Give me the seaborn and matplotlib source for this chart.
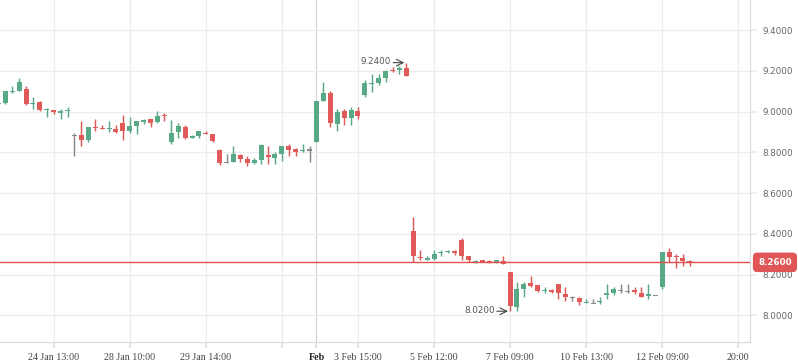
import matplotlib
matplotlib.use("Agg")
import numpy as np
import pandas as pd
import matplotlib.pyplot as plt
import matplotlib.transforms as mtrans
import seaborn as sns

# ---- data ----
opens = [9.036, 9.040, 9.095, 9.102, 9.111, 9.038, 9.045, 9.009, 9.008, 8.994,
         9.004, 8.883, 8.885, 8.860, 8.923, 8.918, 8.914, 8.913, 8.944, 8.904,
         8.930, 8.950, 8.963, 8.950, 8.981, 8.852, 8.901, 8.924, 8.872, 8.881,
         8.895, 8.890, 8.810, 8.751, 8.754, 8.787, 8.767, 8.749, 8.763, 8.784,
         8.774, 8.793, 8.829, 8.816, 8.806, 8.811, 8.852, 9.053, 9.090, 8.940,
         9.003, 8.970, 9.003, 9.081, 9.138, 9.142, 9.166, 9.201, 9.205, 9.212,
         8.414, 8.285, 8.271, 8.278, 8.307, 8.311, 8.315, 8.370, 8.291, 8.261,
         8.271, 8.266, 8.260, 8.266, 8.212, 8.042, 8.129, 8.158, 8.149, 8.121,
         8.126, 8.154, 8.105, 8.086, 8.083, 8.062, 8.059, 8.066, 8.104, 8.110,
         8.123, 8.118, 8.124, 8.111, 8.098, 8.098, 8.140, 8.311, 8.289, 8.280,
         8.266]
highs = [9.044, 9.101, 9.125, 9.165, 9.125, 9.070, 9.050, 9.019, 9.008, 9.012,
         9.021, 8.895, 8.953, 8.924, 8.962, 8.933, 8.952, 8.933, 8.983, 8.972,
         8.954, 8.965, 8.963, 9.001, 8.994, 8.958, 8.944, 8.934, 8.885, 8.904,
         8.903, 8.890, 8.815, 8.793, 8.831, 8.793, 8.782, 8.772, 8.840, 8.830,
         8.800, 8.831, 8.839, 8.821, 8.840, 8.831, 9.052, 9.145, 9.100, 9.014,
         9.014, 9.024, 9.022, 9.155, 9.183, 9.184, 9.205, 9.220, 9.225, 9.240,
         8.484, 8.320, 8.291, 8.320, 8.320, 8.321, 8.321, 8.380, 8.291, 8.271,
         8.271, 8.271, 8.271, 8.293, 8.212, 8.165, 8.165, 8.193, 8.149, 8.137,
         8.130, 8.154, 8.137, 8.096, 8.088, 8.081, 8.079, 8.088, 8.154, 8.140,
         8.154, 8.154, 8.137, 8.139, 8.154, 8.098, 8.311, 8.330, 8.301, 8.301,
         8.273]
lows = [9.032, 9.037, 9.090, 9.102, 9.034, 9.014, 9.004, 8.975, 8.987, 8.965,
        8.975, 8.783, 8.832, 8.852, 8.905, 8.914, 8.900, 8.895, 8.862, 8.895,
        8.890, 8.937, 8.926, 8.945, 8.955, 8.841, 8.870, 8.865, 8.872, 8.872,
        8.888, 8.850, 8.736, 8.746, 8.754, 8.751, 8.734, 8.743, 8.745, 8.745,
        8.743, 8.755, 8.783, 8.783, 8.803, 8.754, 8.852, 9.053, 8.926, 8.906,
        8.935, 8.935, 8.963, 9.071, 9.095, 9.130, 9.147, 9.196, 9.186, 9.176,
        8.260, 8.271, 8.271, 8.271, 8.293, 8.304, 8.298, 8.271, 8.260, 8.259,
        8.260, 8.255, 8.255, 8.252, 8.020, 8.023, 8.090, 8.140, 8.113, 8.111,
        8.111, 8.080, 8.072, 8.072, 8.052, 8.062, 8.059, 8.054, 8.079, 8.100,
        8.111, 8.111, 8.105, 8.090, 8.081, 8.098, 8.131, 8.263, 8.234, 8.242,
        8.242]
closes = [9.040, 9.101, 9.099, 9.144, 9.039, 9.041, 9.008, 9.012, 8.998, 9.003,
          9.007, 8.883, 8.862, 8.924, 8.918, 8.914, 8.917, 8.900, 8.904, 8.929,
          8.954, 8.958, 8.945, 8.978, 8.978, 8.895, 8.929, 8.870, 8.880, 8.904,
          8.888, 8.857, 8.749, 8.751, 8.792, 8.769, 8.749, 8.762, 8.836, 8.781,
          8.792, 8.831, 8.811, 8.803, 8.809, 8.811, 9.052, 9.090, 8.945, 8.996,
          8.970, 9.008, 8.978, 9.140, 9.140, 9.165, 9.200, 9.199, 9.215, 9.176,
          8.293, 8.282, 8.281, 8.302, 8.310, 8.315, 8.304, 8.293, 8.271, 8.265,
          8.260, 8.265, 8.270, 8.252, 8.047, 8.129, 8.153, 8.144, 8.121, 8.124,
          8.114, 8.110, 8.091, 8.086, 8.064, 8.064, 8.059, 8.068, 8.106, 8.129,
          8.123, 8.118, 8.113, 8.090, 8.100, 8.098, 8.311, 8.288, 8.287, 8.268,
          8.260]

last_price = 8.26
high_mark = (59, 9.24)
low_mark = (74, 8.02)

tick_idx = [8, 19, 30, 41, 46, 52, 63, 74, 85, 96, 107]
tick_labels = ["24 Jan 13:00", "28 Jan 10:00", "29 Jan 14:00", "", "Feb",
               "3 Feb 15:00", "5 Feb 12:00", "7 Feb 09:00", "10 Feb 13:00",
               "12 Feb 09:00", "20:00"]
y_ticks = [8.0, 8.2, 8.4, 8.6, 8.8, 9.0, 9.2, 9.4]

GREEN = "#58a986"
RED = "#e05a5a"
GRAY = "#8a8a8a"
GRID = "#ececec"

df = pd.DataFrame({"open": opens, "high": highs, "low": lows, "close": closes})
df["idx"] = np.arange(len(df))
df["color"] = np.where(df.close > df.open, GREEN,
                       np.where(df.close < df.open, RED, GRAY))

sns.set_theme(style="white")
plt.rcParams["font.family"] = ["DejaVu Sans"]

fig = plt.figure(figsize=(7.98, 3.63), dpi=100)
ax = fig.add_axes([0, 21 / 363, 750 / 798, 342 / 363])

# grid
for t in tick_idx:
    if t == 46:
        ax.axvline(t, color="#d4d4d4", lw=0.9, zorder=0)
    else:
        ax.axvline(t, color=GRID, lw=0.9, zorder=0)
for yv in y_ticks:
    ax.axhline(yv, color=GRID, lw=0.9, zorder=0)

# wicks
ax.vlines(df.idx, df.low, df.high, colors=df.color, lw=1.05, zorder=2)
# bodies
bottom = np.minimum(df.open, df.close)
height = np.abs(df.close - df.open)
minh = 0.0065
adj_bottom = np.where(height < minh, (df.open + df.close) / 2 - minh / 2, bottom)
adj_height = np.maximum(height, minh)
ax.bar(df.idx, adj_height, bottom=adj_bottom, width=0.72, color=df.color,
       linewidth=0, zorder=3)

# last price line
ax.axhline(last_price, color="#e05050", lw=1.0, zorder=4)
trans = mtrans.blended_transform_factory(ax.transAxes, ax.transData)
ax.text(1.0333, last_price, f"{last_price:.4f}", transform=trans, ha="center",
        va="center", color="white", fontsize=6.3, fontweight="bold", zorder=10,
        clip_on=False,
        bbox=dict(boxstyle="round,pad=0.6,rounding_size=0.5", fc="#e05555",
                  ec="none"))

# high / low annotations
for xm, ym in (high_mark, low_mark):
    ax.annotate(f"{ym:.4f}", xy=(xm, ym), xytext=(-11, 0.5),
                textcoords="offset points", ha="right", va="center",
                fontsize=6.3, color="#555555", zorder=6)
    ax.annotate("", xy=(xm, ym), xytext=(-9.5, 0), textcoords="offset points",
                xycoords="data",
                arrowprops=dict(arrowstyle="->", color="#444444", lw=0.8,
                                shrinkA=0, shrinkB=1.5), zorder=6)

ax.set_xlim(0.23, 108.7)
ax.set_ylim(7.869, 9.5475)

ax.yaxis.tick_right()
ax.set_yticks(y_ticks)
ax.set_yticklabels([f"{v:.4f}" for v in y_ticks])
ax.tick_params(axis="y", which="both", length=5, color=GRID, pad=4,
               labelsize=6.3, labelcolor="#666666", right=True, left=False)

ax.set_xticks(tick_idx)
ax.set_xticklabels(tick_labels)
ax.tick_params(axis="x", length=4, color="#dddddd", pad=4, bottom=True,
               labelsize=7.2, labelcolor="#444444")
for lab in ax.get_xticklabels():
    lab.set_fontfamily(["Liberation Serif", "DejaVu Serif"])
    if lab.get_text() == "Feb":
        lab.set_fontweight("bold")
        lab.set_color("#222222")

for side in ["top", "left"]:
    ax.spines[side].set_visible(False)
ax.spines["right"].set_color("#dddddd")
ax.spines["bottom"].set_color("#dddddd")
ax.spines["right"].set_linewidth(0.9)
ax.spines["bottom"].set_linewidth(0.9)
ax.set_facecolor("white")
ax.grid(False)

fig.savefig("out.png", dpi=100, facecolor="white")
